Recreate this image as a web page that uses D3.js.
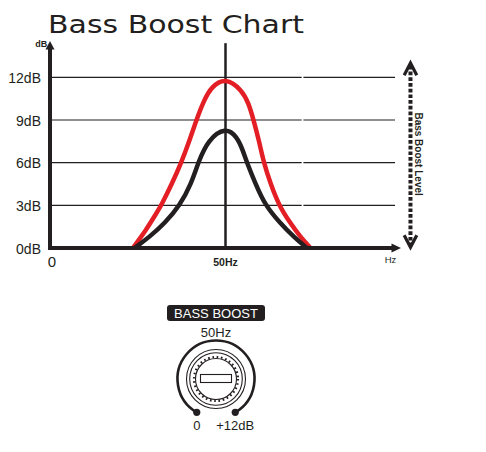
<!DOCTYPE html>
<html lang="en">
<head>
<meta charset="UTF-8">
<title>Bass Boost Chart</title>
<style>
  body { margin: 0; background: #fff; }
  svg { display: block; }
  text { font-family: "Liberation Sans", Arial, sans-serif; fill: #231f20; }
</style>
</head>
<body>
<svg width="486" height="452"></svg>
<script src="https://cdn.jsdelivr.net/npm/d3@7/dist/d3.min.js"></script>
<script>
// data
var yTicks = [0, 3, 6, 9, 12];
var centerHz = 50;
var redHz = [23.6, 27.4, 30.3, 31.7, 34.8, 37.4, 39.8, 41.7, 43.9, 46.0, 50, 54.7, 56.6, 58.0, 59.5, 60.9, 62.8, 65.2, 68.5, 71.3, 74.2];
var redDb = [0, 1.27, 2.44, 3, 4.55, 6, 7.59, 9, 10.4, 11.34, 12, 11.1, 10.17, 9, 7.59, 6, 4.55, 3, 1.74, 0.79, 0];
var blackHz = [24.1, 28.4, 32.7, 37.0, 40.3, 42.2, 45.0, 50, 53.3, 54.9, 56.1, 58.5, 61.3, 65.6, 69.4, 73.2];
var blackDb = [0, 0.79, 1.74, 3, 4.55, 6, 7.59, 8.5, 7.82, 6.89, 6, 4.55, 3, 1.74, 0.79, 0];
var knobLabels = ['0', '+12dB'];

var ink = '#231f20', red = '#e31e24';
var svg = d3.select('svg');

var x = d3.scaleLinear().domain([0, 100]).range([50, 401]);
var y = d3.scaleLinear().domain([0, 12]).range([248, 77.3]);

// title
svg.append('text').attr('x', 48).attr('y', 33)
  .style('font-family', '"DejaVu Sans", sans-serif').style('font-size', '24px')
  .attr('textLength', 256).attr('lengthAdjust', 'spacingAndGlyphs')
  .text('Bass Boost Chart');

// gridlines (small white gap in the original artwork)
var g = svg.append('g');
g.selectAll('.grid').data(yTicks.slice(1)).enter().append('path')
  .attr('d', function (d) {
    return 'M' + x(0) + ',' + y(d) + 'H' + x(71.7) + 'M' + x(72.2) + ',' + y(d) + 'H' + x(98.3);
  })
  .attr('stroke', ink).attr('stroke-width', 1.2).attr('fill', 'none');

// center line
g.append('line').attr('x1', x(centerHz)).attr('x2', x(centerHz))
  .attr('y1', y(14.4)).attr('y2', y(0))
  .attr('stroke', ink).attr('stroke-width', 2.5);

// y tick labels
var yAxis = d3.axisLeft(y).tickValues(yTicks).tickSize(0).tickPadding(9)
  .tickFormat(function (d) { return d + 'dB'; });
var ya = g.append('g').attr('transform', 'translate(' + x(0) + ',0)').call(yAxis);
ya.select('.domain').remove();
ya.selectAll('text').attr('dy', '0.36em').style('font-size', '14px')
  .style('font-family', '"Liberation Sans", Arial, sans-serif').attr('fill', ink);

// curves
var line = d3.line().x(function (d) { return x(d[0]); }).y(function (d) { return y(d[1]); })
  .curve(d3.curveBasis);
g.append('path').datum(d3.zip(redHz, redDb)).attr('d', line)
  .attr('fill', 'none').attr('stroke', red).attr('stroke-width', 4.5);
g.append('path').datum(d3.zip(blackHz, blackDb)).attr('d', line)
  .attr('fill', 'none').attr('stroke', ink).attr('stroke-width', 4.5);

// axes with arrows
g.append('line').attr('x1', x(0)).attr('x2', x(0)).attr('y1', y(0) + 2).attr('y2', y(14.1))
  .attr('stroke', ink).attr('stroke-width', 4);
g.append('path').attr('d', 'M' + (x(0) - 4.5) + ',' + y(13.95) + 'L' + x(0) + ',' + y(14.55) + 'L' + (x(0) + 4.5) + ',' + y(13.95) + 'Z')
  .attr('fill', ink);
g.append('line').attr('x1', x(0) - 2).attr('x2', x(97.5)).attr('y1', y(0)).attr('y2', y(0))
  .attr('stroke', ink).attr('stroke-width', 4);
g.append('path').attr('d', 'M' + x(97.3) + ',' + (y(0) - 4.5) + 'L' + x(100) + ',' + y(0) + 'L' + x(97.3) + ',' + (y(0) + 4.5) + 'Z')
  .attr('fill', ink);

svg.append('text').attr('x', x(-2.5)).attr('y', 46.7).attr('text-anchor', 'middle')
  .style('font-size', '9px').style('font-weight', 'bold').text('dB');
svg.append('text').attr('x', x(97)).attr('y', 263).attr('text-anchor', 'middle')
  .style('font-size', '9.5px').text('Hz');
svg.append('text').attr('x', x(0) + 2).attr('y', 266.5).attr('text-anchor', 'middle')
  .style('font-size', '15px').text('0');
svg.append('text').attr('x', x(centerHz)).attr('y', 266).attr('text-anchor', 'middle')
  .style('font-size', '10.5px').style('font-weight', 'bold').text(centerHz + 'Hz');

// bass boost level double arrow
var ax = x(102.7);
g.append('line').attr('x1', ax).attr('x2', ax).attr('y1', y(12.8)).attr('y2', y(0.1))
  .attr('stroke', ink).attr('stroke-width', 4).attr('stroke-dasharray', '3.7,2');
g.append('path').attr('d', 'M' + (ax - 6.3) + ',' + y(12.15) + 'L' + ax + ',' + y(13) + 'L' + (ax + 6.3) + ',' + y(12.15))
  .attr('fill', 'none').attr('stroke', ink).attr('stroke-width', 3.2);
g.append('path').attr('d', 'M' + (ax - 6.3) + ',' + y(0.9) + 'L' + ax + ',' + y(0.05) + 'L' + (ax + 6.3) + ',' + y(0.9))
  .attr('fill', 'none').attr('stroke', ink).attr('stroke-width', 3.2);
svg.append('text').attr('transform', 'translate(' + (ax + 4.5) + ',' + y(6.6) + ') rotate(90)')
  .attr('text-anchor', 'middle').style('font-size', '10px').style('font-weight', 'bold')
  .text('Bass Boost Level');

// knob illustration
var kx = 216, ky = 379;
var knob = svg.append('g').attr('transform', 'translate(' + kx + ',' + ky + ')');
knob.append('rect').attr('x', -49).attr('y', -74).attr('width', 98).attr('height', 16).attr('rx', 3)
  .attr('fill', ink);
knob.append('text').attr('x', 0).attr('y', -61.3).attr('text-anchor', 'middle')
  .style('font-size', '13px').style('fill', '#fff').text('BASS BOOST');
knob.append('text').attr('x', 0).attr('y', -42.5).attr('text-anchor', 'middle')
  .style('font-size', '13px').text('50Hz');

var ang = 150 * Math.PI / 180, R = 38.5;
knob.append('path').attr('d', d3.arc()({innerRadius: R, outerRadius: R, startAngle: -ang, endAngle: ang}))
  .attr('fill', 'none').attr('stroke', ink).attr('stroke-width', 2.6);
knob.selectAll('.dot').data([-ang, ang]).enter().append('circle')
  .attr('cx', function (a) { return R * Math.sin(a); })
  .attr('cy', function (a) { return -R * Math.cos(a); })
  .attr('r', 3.6).attr('fill', ink);
knob.selectAll('.lbl').data(knobLabels).enter().append('text')
  .attr('x', function (d, i) { return R * Math.sin(i ? ang : -ang); })
  .attr('y', 51).attr('text-anchor', 'middle').style('font-size', '13px')
  .text(function (d) { return d; });

[29.5, 26.3, 20.5].forEach(function (r) {
  knob.append('circle').attr('r', r).attr('fill', 'none').attr('stroke', ink).attr('stroke-width', 1.1);
});
knob.append('circle').attr('r', 22).attr('fill', 'none').attr('stroke', ink).attr('stroke-width', 2.2)
  .attr('stroke-dasharray', '1.6,2.72');
knob.append('rect').attr('x', -15.5).attr('y', -4.5).attr('width', 31).attr('height', 8)
  .attr('fill', '#fff').attr('stroke', ink).attr('stroke-width', 1.1);
</script>
</body>
</html>
